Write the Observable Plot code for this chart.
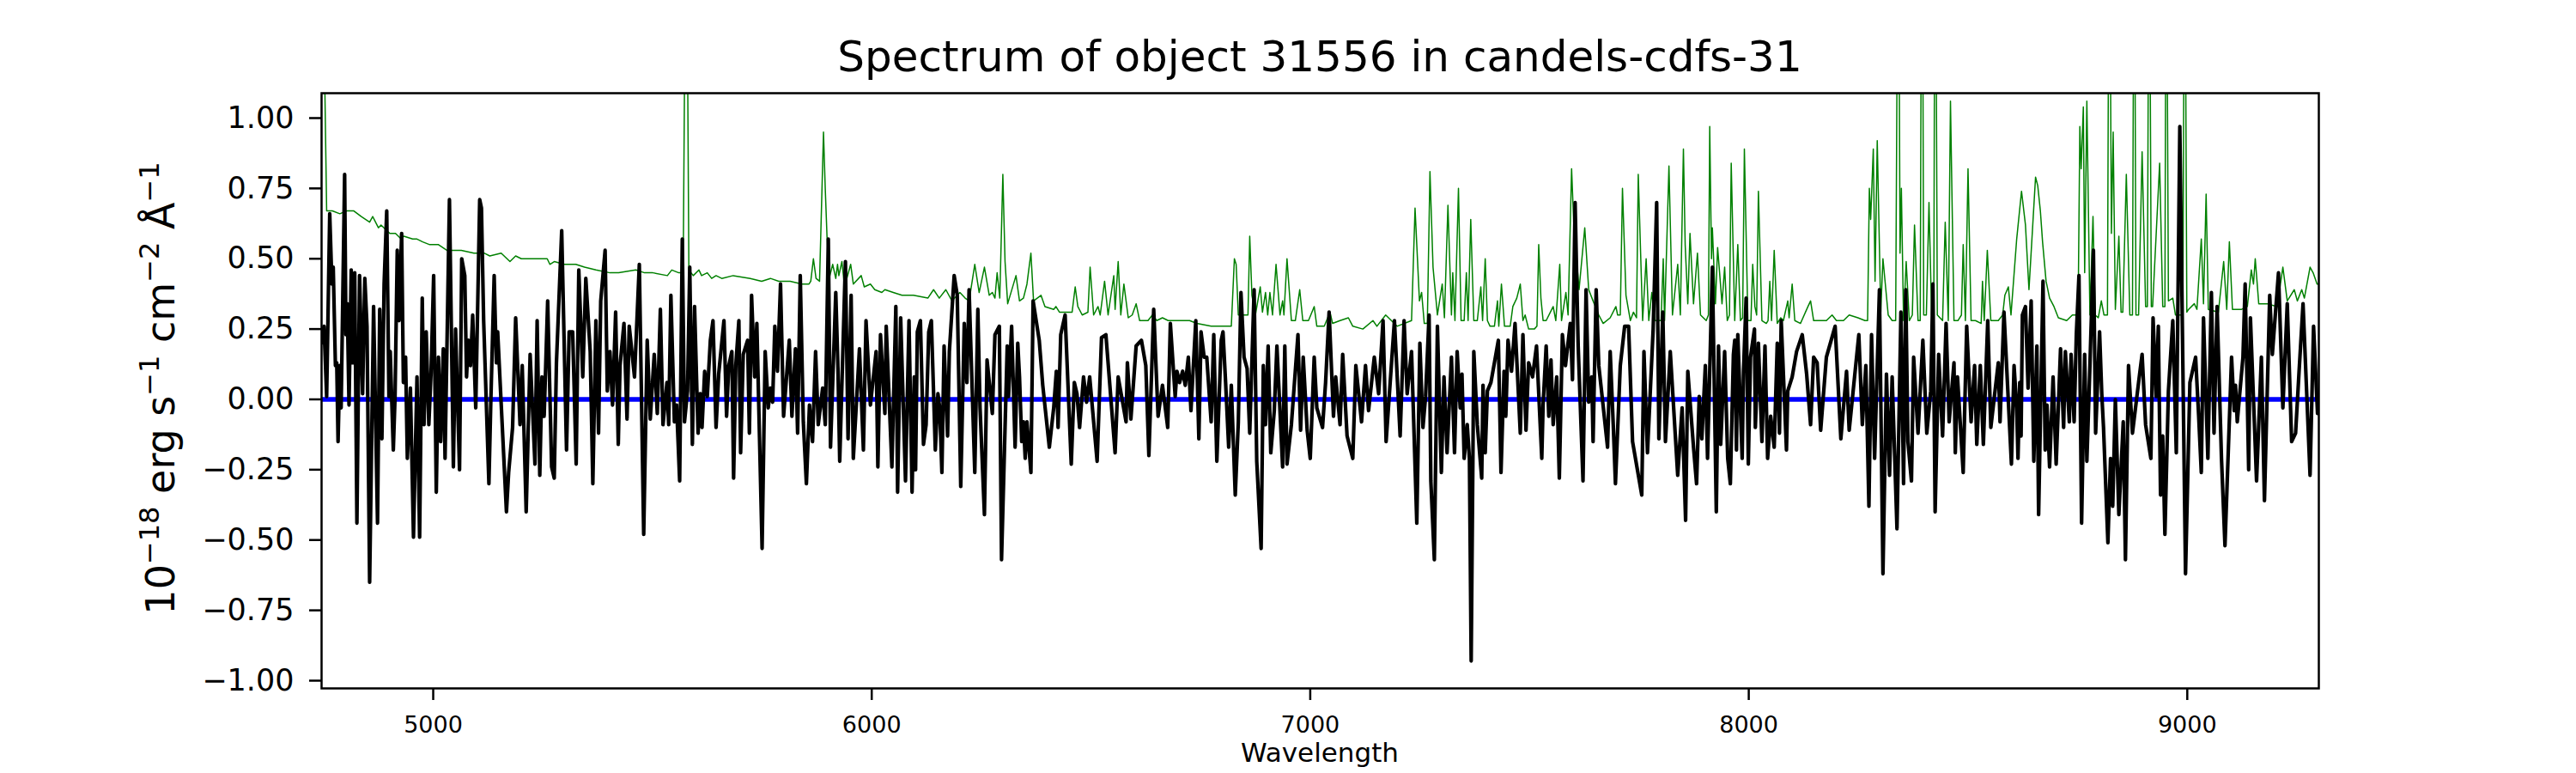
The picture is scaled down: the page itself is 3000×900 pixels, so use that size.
<!DOCTYPE html>
<html>
<head>
<meta charset="utf-8">
<script src="https://cdn.jsdelivr.net/npm/d3@7"></script>
<script src="https://cdn.jsdelivr.net/npm/@observablehq/plot@0.6"></script>
<style>
  html, body { margin: 0; padding: 0; background: #ffffff; }
  #chart { width: 3000px; height: 900px; }
</style>
</head>
<body>
<div id="chart"></div>
<script>
// ---- texts ----
const titleText = "Spectrum of object 31556 in candels-cdfs-31";
const xLabelText = "Wavelength";
const yLabelParts = [["10", false], ["−18", true], [" erg s", false], ["−1", true], [" cm", false], ["−2", true], [" Å", false], ["−1", true]];

// ---- ticks ----
const xTicks = [5000, 6000, 7000, 8000, 9000];
const yTicks = [-1, -0.75, -0.5, -0.25, 0, 0.25, 0.5, 0.75, 1];

// ---- model level (blue) ----
const zeroLevel = [0];

// ---- observed flux (black), [wavelength, flux] ----
const fluxPart1 = [[4745,.20],[4751,.26],[4757,.01],[4764,.66],[4769,.41],[4772,.47],[4777,.12],[4780,.13],[4783,-.15],[4787,.12],[4790,-.03],[4798,.80],[4801,.23],[4804,.34],[4808,-.02],[4813,.46],[4816,.13],[4821,.45],[4826,-.44],[4832,.44],[4839,.02],[4844,.43],[4849,.26],[4855,-.65],[4864,.33],[4873,-.44],[4878,.32],[4883,-.14],[4888,.41],[4894,.67],[4899,.01],[4902,.17],[4909,-.18],[4913,.01],[4918,.53],[4922,.28],[4928,.59],[4932,.06],[4937,.15],[4941,-.21],[4948,.04],[4955,-.49],[4963,.08],[4969,-.49],[4975,.36],[4979,-.09],[4984,.24],[4990,-.09],[4995,.09],[5001,.44],[5007,-.33],[5012,.15],[5017,-.15],[5023,.18],[5027,-.21],[5037,.71],[5046,-.24],[5051,.25],[5060,-.25],[5065,.50],[5072,.44],[5076,.08],[5080,.21],[5085,.12],[5090,.30],[5097,-.03],[5106,.71],[5110,.68],[5115,.28],[5127,-.30],[5131,-.03],[5139,.44],[5144,.13],[5147,.24],[5167,-.40],[5172,-.26],[5181,-.10],[5188,.29],[5198,-.09],[5203,.12],[5212,-.40],[5221,.16],[5232,-.23],[5237,.28],[5243,-.27],[5248,.08],[5253,-.06],[5261,.35],[5270,-.24],[5276,-.28],[5281,.13],[5293,.60],[5304,-.18],[5310,.24],[5318,.24],[5326,-.23],[5332,.46],[5341,.08],[5348,.43],[5358,.17],[5364,-.30],[5371,.28],[5377,-.12],[5382,.35]];
const fluxPart2 = [[5392,.53],[5397,.03],[5403,.17],[5409,-.02],[5416,.31],[5422,-.16],[5426,.12],[5435,.27],[5442,-.07],[5447,.26],[5459,.08],[5470,.48],[5480,-.48],[5488,.21],[5495,-.07],[5504,.16],[5511,-.05],[5518,.32],[5524,-.09],[5533,.06],[5537,-.09],[5542,.37],[5550,-.08],[5555,-.02],[5562,-.29],[5568,.57],[5573,-.08],[5580,.03],[5585,.47],[5591,-.16],[5596,.33],[5604,-.12],[5609,.02],[5613,-.10],[5619,.10],[5625,.01],[5632,.21],[5638,.28],[5645,-.10],[5651,.09],[5663,.28],[5669,-.06],[5674,.12],[5681,.17],[5685,-.28],[5690,.12],[5697,.28],[5701,-.19],[5707,.16],[5717,.21],[5721,-.12],[5726,.37],[5733,.08],[5738,.27],[5750,-.53],[5757,.17],[5764,-.03],[5769,.04],[5774,-.01],[5779,.26],[5785,.10],[5792,.41],[5799,-.06],[5812,.21],[5818,-.06],[5826,.18],[5831,-.12],[5837,.44],[5844,-.08],[5851,-.30],[5858,-.02],[5865,-.15],[5872,.17],[5878,-.09],[5888,.04],[5894,-.09],[5901,.57],[5906,-.17],[5918,.38],[5923,.11],[5927,-.22],[5940,.49],[5946,-.14],[5953,.37],[5958,-.21],[5972,.18],[5981,-.18],[5987,.28],[5997,-.02],[6010,.17],[6014,-.24],[6020,.23],[6030,-.05]];
const fluxPart3 = [[6033,.26],[6046,-.24],[6055,.33],[6059,-.33],[6066,.29],[6077,-.29],[6085,.28],[6092,-.33],[6097,.08],[6100,-.25],[6104,.24],[6111,.28],[6118,-.16],[6124,-.09],[6130,.24],[6136,.28],[6145,-.18],[6151,.02],[6155,-.03],[6160,-.26],[6165,.19],[6173,-.13],[6177,.17],[6188,.44],[6195,.37],[6203,-.31],[6209,.12],[6211,.27],[6217,.06],[6222,.39],[6235,-.26],[6242,.32],[6247,-.03],[6257,-.41],[6263,.14],[6275,-.05],[6281,.23],[6291,.26],[6296,-.57],[6309,.19],[6312,.01],[6319,.26],[6327,-.17],[6333,.20],[6337,.08],[6342,-.15],[6346,-.08],[6350,-.21],[6354,-.08],[6363,-.26],[6368,.35],[6382,.21],[6390,.05],[6405,-.17],[6415,-.03],[6421,.10],[6425,-.10],[6431,.23],[6441,.30],[6455,-.23],[6462,.06],[6468,.02],[6474,-.10],[6483,.08],[6490,-.01],[6497,.08],[6514,-.22],[6524,.22],[6534,.23],[6555,-.19],[6562,.08],[6580,-.08],[6583,.13],[6591,-.07],[6603,.19],[6615,.21],[6625,.12],[6632,-.20],[6643,.32],[6653,-.06],[6663,.05],[6675,-.10]];
const fluxPart4 = [[6681,.27],[6692,.01],[6696,.10],[6702,.06],[6709,.10],[6715,.05],[6722,.15],[6728,-.04],[6739,.28],[6746,-.14],[6751,.24],[6758,.15],[6764,.15],[6774,-.08],[6780,.23],[6787,-.22],[6797,.21],[6801,.24],[6807,.06],[6814,-.17],[6820,.05],[6829,-.34],[6836,-.08],[6842,.38],[6849,.15],[6856,.11],[6862,-.12],[6872,.39],[6878,-.22],[6888,-.53],[6893,.12],[6898,-.09],[6904,.19],[6910,-.19],[6918,-.04],[6924,.19],[6937,-.24],[6942,.19],[6947,-.23],[6957,-.09],[6972,.23],[6978,-.11],[6984,.15],[6993,-.11],[7000,-.21],[7009,.15],[7015,-.03],[7028,-.10],[7035,.06],[7043,.31],[7053,-.06],[7058,.08],[7068,-.09],[7074,.16],[7084,-.13],[7097,-.21],[7104,.12],[7117,-.08],[7126,.12],[7133,-.04],[7146,.15],[7156,.02],[7166,.28],[7173,-.15],[7192,.28],[7205,-.13],[7214,.28],[7221,.02],[7231,.17],[7243,-.44],[7250,.20],[7257,-.10],[7263,.01],[7271,.30],[7275,-.29],[7283,-.57],[7290,.26],[7299,-.26],[7305,.08],[7312,-.19],[7322,.15]];
const fluxPart5 = [[7329,-.19],[7335,.17],[7342,-.03],[7346,.09],[7351,-.21],[7358,-.09],[7363,-.21],[7367,-.93],[7373,.17],[7381,-.09],[7391,-.28],[7394,.05],[7399,-.19],[7404,.03],[7412,.06],[7420,.13],[7429,.21],[7435,-.26],[7442,.10],[7446,-.06],[7451,.21],[7459,.10],[7467,.27],[7479,-.12],[7485,.23],[7492,-.11],[7498,.13],[7507,.08],[7516,.19],[7528,-.21],[7531,-.02],[7538,.19],[7544,-.06],[7549,.14],[7554,-.09],[7562,.08],[7568,-.28],[7575,.23],[7582,.12],[7593,.27],[7598,.07],[7604,.70],[7611,.19],[7622,-.29],[7629,.39],[7635,-.01],[7642,.08],[7645,-.15],[7652,.39],[7658,.12],[7667,-.01],[7678,-.17],[7684,.17],[7691,-.09],[7696,-.30],[7707,.12],[7717,.26],[7726,.26],[7735,-.15],[7756,-.34],[7761,.17],[7769,-.19],[7782,.25],[7790,.70],[7795,-.14],[7804,.31],[7810,-.15],[7821,.17],[7838,-.27],[7848,-.03],[7856,-.43],[7861,.10],[7874,-.17],[7881,-.30],[7887,.01],[7893,-.14],[7901,.12],[7906,-.21],[7917,.47],[7926,-.40],[7931,.19],[7936,-.16],[7945,.17],[7952,-.21],[7958,-.30],[7965,.16]];
const fluxPart6 = [[7968,.21],[7972,-.18],[7975,.23],[7985,-.21],[7988,.10],[7994,.36],[7999,-.23],[8004,.15],[8013,.25],[8015,-.10],[8022,.20],[8030,-.15],[8037,.19],[8043,-.21],[8050,-.06],[8058,-.17],[8065,.20],[8070,-.12],[8074,.28],[8086,-.18],[8089,.03],[8099,.08],[8109,.17],[8122,.23],[8132,.09],[8141,-.09],[8148,.15],[8156,.13],[8164,-.11],[8177,.15],[8197,.26],[8210,-.14],[8223,.10],[8229,-.11],[8251,.23],[8259,-.09],[8267,.12],[8274,-.38],[8280,.23],[8287,-.21],[8298,.39],[8306,-.62],[8314,.09],[8321,-.27],[8327,.08],[8338,-.46],[8347,.31],[8353,-.30],[8358,.39],[8363,-.15],[8371,-.29],[8376,.15],[8386,-.12],[8397,.21],[8406,-.12],[8415,.03],[8420,.41],[8425,-.40],[8433,.16],[8442,-.13],[8450,.27],[8457,-.08],[8468,.13],[8471,-.19],[8476,.08],[8489,-.26],[8497,.26],[8507,-.08],[8515,.12],[8520,-.16],[8528,.12],[8535,-.16],[8545,.28],[8552,-.10],[8569,.13],[8573,-.08],[8582,.31],[8599,-.23],[8605,.12],[8611,-.03]];
const fluxPart7 = [[8614,-.21],[8618,.06],[8621,-.13],[8624,.30],[8631,.33],[8637,.04],[8644,.35],[8650,-.22],[8657,.19],[8661,-.41],[8671,.42],[8676,-.18],[8680,-.02],[8686,-.24],[8694,.08],[8701,-.23],[8711,.18],[8718,-.10],[8722,.17],[8731,-.08],[8735,.16],[8742,-.08],[8747,.23],[8753,.44],[8759,-.44],[8766,.16],[8771,-.22],[8778,.12],[8786,.53],[8791,-.12],[8800,.24],[8805,.02],[8809,-.10],[8819,-.51],[8825,-.21],[8830,-.38],[8836,.00],[8844,-.41],[8854,-.08],[8859,-.57],[8866,.12],[8875,-.12],[8889,.06],[8897,.16],[8905,-.09],[8917,-.21],[8922,.29],[8929,.01],[8934,.26],[8939,-.34],[8944,-.13],[8949,-.48],[8957,.03],[8967,.28],[8975,-.19],[8983,.97],[8996,-.62],[9006,.06],[9019,.15],[9026,-.06],[9032,-.26],[9037,.29],[9047,-.21],[9055,.38],[9061,-.12],[9068,.33],[9078,-.21],[9086,-.52],[9101,.15],[9107,-.04],[9110,.05],[9114,-.08],[9127,.15],[9132,.41],[9140,-.25],[9144,.29],[9158,-.29],[9169,.15],[9176,-.36],[9188,.37],[9194,.16],[9208,.45],[9218,-.03],[9228,.34],[9238,-.15],[9247,-.12],[9255,.10],[9264,.34],[9280,-.27],[9288,.26],[9297,-.05]];

// ---- sky / noise spectrum (green), [wavelength, flux] ----
const skyPart1 = [[4745,1.6],[4752,1.2],[4757,.67],[4770,.67],[4787,.66],[4803,.67],[4819,.67],[4836,.65],[4855,.63],[4862,.65],[4875,.61],[4881,.62],[4901,.59],[4914,.59],[4927,.57],[4933,.58],[4953,.57],[4963,.57],[4976,.56],[4992,.55],[5012,.55],[5031,.53],[5064,.53],[5093,.52],[5116,.52],[5129,.51],[5155,.52],[5175,.49],[5188,.51],[5201,.50],[5221,.50],[5240,.50],[5260,.50],[5266,.48],[5276,.49],[5299,.48],[5325,.48],[5345,.47],[5371,.46]];
const skyPart2 = [[5403,.45],[5423,.45],[5462,.46],[5482,.45],[5501,.45],[5534,.44],[5544,.46],[5560,.45],[5570,.45],[5577,2.0],[5583,.46],[5593,.44],[5606,.46],[5612,.44],[5625,.45],[5635,.43],[5645,.44],[5658,.43],[5684,.44],[5723,.43],[5749,.42],[5769,.43],[5788,.42],[5814,.42],[5841,.41],[5857,.41],[5861,.42],[5867,.50],[5873,.43],[5881,.42],[5890,.95],[5894,.75],[5898,.58],[5903,.43],[5911,.48],[5918,.43],[5922,.48],[5925,.44],[5932,.49],[5938,.40],[5952,.48],[5958,.41],[5976,.44],[5983,.40],[5997,.41],[6007,.39],[6023,.38]];
const skyPart3 = [[6030,.39],[6049,.38],[6069,.37],[6095,.37],[6128,.36],[6141,.39],[6154,.36],[6169,.39],[6183,.35],[6201,.38],[6213,.36],[6222,.35],[6235,.48],[6245,.38],[6257,.47],[6268,.37],[6275,.38],[6281,.36],[6286,.45],[6292,.36],[6299,.80],[6304,.49],[6310,.34],[6329,.44],[6337,.35],[6346,.36],[6354,.41],[6363,.52],[6369,.35],[6386,.37],[6395,.33],[6415,.32],[6420,.33],[6428,.31],[6448,.31],[6457,.31],[6464,.40],[6470,.33],[6480,.30],[6493,.31],[6498,.47],[6506,.30],[6516,.33],[6521,.30],[6531,.42],[6539,.30],[6552,.44],[6555,.32],[6562,.49],[6568,.30],[6575,.41],[6585,.29],[6594,.30],[6603,.34],[6611,.28],[6630,.28],[6640,.30],[6650,.28],[6663,.29]];
const skyPart4 = [[6676,.28],[6696,.28],[6709,.28],[6725,.28],[6741,.27],[6774,.26],[6820,.26],[6827,.50],[6831,.48],[6836,.30],[6852,.30],[6858,.30],[6862,.58],[6867,.37],[6875,.30],[6886,.40],[6891,.31],[6898,.38],[6903,.30],[6908,.38],[6914,.30],[6922,.48],[6931,.30],[6937,.35],[6940,.30],[6947,.50],[6957,.28],[6966,.28],[6976,.39],[6983,.28],[6996,.28],[7009,.33],[7015,.26],[7032,.26],[7045,.31],[7051,.27],[7068,.28],[7087,.29],[7097,.26],[7120,.25],[7143,.28],[7152,.26],[7172,.30],[7198,.26],[7231,.28],[7239,.68],[7249,.35],[7254,.38],[7260,.27],[7267,.27],[7273,.81],[7280,.47],[7290,.30],[7301,.41],[7306,.29],[7314,.69],[7322,.30]];
const skyPart5 = [[7325,.45],[7330,.28],[7338,.75],[7344,.28],[7351,.28],[7356,.45],[7360,.28],[7366,.64],[7373,.28],[7381,.28],[7389,.40],[7393,.28],[7399,.50],[7404,.28],[7410,.26],[7420,.26],[7427,.35],[7430,.26],[7436,.41],[7443,.26],[7456,.26],[7462,.33],[7471,.36],[7479,.41],[7485,.28],[7490,.30],[7498,.25],[7511,.25],[7517,.26],[7521,.55],[7526,.36],[7531,.28],[7538,.28],[7554,.33],[7560,.28],[7569,.48],[7573,.28],[7583,.38],[7588,.30],[7596,.82],[7601,.62],[7613,.39],[7626,.61],[7635,.39],[7645,.35],[7658,.30],[7668,.27],[7684,.29],[7697,.33],[7701,.30],[7707,.30],[7712,.75],[7720,.37],[7730,.28],[7737,.31],[7744,.29],[7748,.80],[7758,.28],[7766,.50],[7772,.28],[7779,.38],[7786,.28],[7800,.28],[7805,.50],[7808,.28],[7818,.83],[7826,.30],[7838,.48],[7844,.30],[7851,.89],[7855,.55],[7861,.34],[7866,.59],[7874,.34],[7883,.52],[7890,.30],[7903,.28],[7908,.30],[7911,.97],[7915,.50],[7917,.61],[7924,.34],[7929,.54],[7939,.34],[7945,.47],[7951,.28],[7956,.30],[7960,.84]];
const skyPart6 = [[7968,.28],[7975,.55],[7981,.28],[7986,.29],[7990,.89],[7998,.28],[8005,.28],[8009,.48],[8014,.33],[8018,.30],[8022,.74],[8030,.28],[8040,.27],[8044,.28],[8048,.42],[8052,.28],[8058,.53],[8065,.27],[8073,.29],[8079,.28],[8089,.35],[8092,.29],[8099,.41],[8105,.28],[8118,.27],[8135,.33],[8141,.35],[8148,.28],[8158,.28],[8177,.28],[8190,.30],[8200,.28],[8216,.28],[8229,.30],[8249,.29],[8265,.28],[8271,.28],[8275,.75],[8278,.64],[8284,.89],[8288,.42],[8293,.92],[8301,.31],[8306,.50],[8318,.30],[8327,.28],[8335,.28],[8341,2.0],[8345,.52],[8348,.75],[8353,.28],[8359,.49],[8366,.28],[8373,.30],[8378,.62],[8386,.28],[8391,.28],[8395,2.2],[8399,.30],[8405,.30],[8411,.70],[8417,.30],[8422,.30],[8425,2.2],[8430,.30],[8442,.28],[8448,.63],[8455,.28],[8460,1.06],[8468,.28],[8477,.28],[8485,.30],[8489,.55],[8494,.28],[8500,.82],[8507,.28],[8517,.28],[8530,.27],[8533,.42],[8537,.28],[8544,.53],[8552,.28],[8569,.28],[8579,.30],[8584,.37],[8592,.40],[8598,.30],[8611,.57]];
const skyPart7 = [[8622,.74],[8631,.62],[8639,.39],[8654,.79],[8659,.76],[8665,.67],[8670,.56],[8678,.42],[8686,.36],[8696,.33],[8706,.29],[8725,.28],[8738,.30],[8748,.30],[8751,.30],[8755,.97],[8758,.82],[8763,1.04],[8766,.45],[8771,1.06],[8778,.30],[8785,.65],[8790,.30],[8797,.29],[8804,.35],[8810,.30],[8818,.30],[8822,2.0],[8827,.59],[8831,.95],[8836,.32],[8844,.58],[8849,.31],[8853,.31],[8861,.80],[8869,.30],[8875,.30],[8879,2.0],[8883,.30],[8889,.30],[8897,.88],[8905,.33],[8909,.33],[8913,2.0],[8918,.33],[8921,.33],[8937,.84],[8944,.33],[8949,.33],[8952,2.0],[8957,.35],[8967,.36],[8973,.30],[8990,.30],[8994,2.0],[8999,.31],[9003,.32],[9016,.34],[9022,.32],[9032,.57],[9037,.34],[9043,.73],[9048,.32],[9071,.31],[9083,.49],[9090,.32],[9096,.56],[9103,.32],[9124,.32],[9137,.33],[9146,.46],[9151,.41],[9155,.50],[9163,.34],[9182,.34],[9205,.33],[9218,.47],[9228,.35],[9244,.39],[9251,.35],[9261,.39],[9267,.36],[9280,.47],[9287,.45],[9296,.41],[9300,.41]];

// ---- tables built from the arrays ----
const fluxTable = [].concat(fluxPart1, fluxPart2, fluxPart3, fluxPart4, fluxPart5, fluxPart6, fluxPart7)
  .map(([w, f]) => ({wavelength: w, flux: f}));
const skyTable = [].concat(skyPart1, skyPart2, skyPart3, skyPart4, skyPart5, skyPart6, skyPart7)
  .map(([w, f]) => ({wavelength: w, flux: f}));

const FONT = "DejaVu Sans";

const chart = Plot.plot({
  width: 3000,
  height: 900,
  marginLeft: 374,
  marginRight: 300,
  marginTop: 108,
  marginBottom: 99,
  style: {fontFamily: FONT, background: "#ffffff", color: "#000000"},
  x: {domain: [4745.4, 9300]},
  y: {domain: [-1.0275, 1.0885]},
  marks: [
    Plot.line(skyTable, {x: "wavelength", y: "flux", stroke: "#008000", strokeWidth: 1.5, clip: true}),
    Plot.ruleY(zeroLevel, {stroke: "#0000ff", strokeWidth: 5.5}),
    Plot.line(fluxTable, {x: "wavelength", y: "flux", stroke: "#000000", strokeWidth: 4.2, clip: true}),
    Plot.axisX(xTicks, {tickSize: 14, tickPadding: 18, fontSize: 27, strokeWidth: 2.5, label: null, tickFormat: d => String(d)}),
    Plot.axisY(yTicks, {tickSize: 14, tickPadding: 18, fontSize: 35, strokeWidth: 2.5, label: null, tickFormat: d3.format(".2f")}),
    Plot.frame({stroke: "#000000", strokeWidth: 2.5})
  ]
});

const svg = d3.select(chart);

// title
svg.append("text")
  .attr("x", 1537).attr("y", 83)
  .attr("text-anchor", "middle")
  .attr("font-family", FONT).attr("font-size", 50).attr("fill", "#000")
  .text(titleText);

// x label
svg.append("text")
  .attr("x", 1537).attr("y", 887)
  .attr("text-anchor", "middle")
  .attr("font-family", FONT).attr("font-size", 31).attr("fill", "#000")
  .text(xLabelText);

// y label with superscripts
const yl = svg.append("text")
  .attr("transform", "translate(203,452) rotate(-90)")
  .attr("text-anchor", "middle")
  .attr("font-family", FONT).attr("font-size", 46).attr("fill", "#000")
  .style("white-space", "pre");
let raised = false;
for (const [s, sup] of yLabelParts) {
  const t = yl.append("tspan").text(s);
  if (sup && !raised) { t.attr("dy", -18).attr("font-size", 32); raised = true; }
  else if (sup) { t.attr("font-size", 32); }
  else if (!sup && raised) { t.attr("dy", 18); raised = false; }
}

document.getElementById("chart").appendChild(chart);
</script>
</body>
</html>
